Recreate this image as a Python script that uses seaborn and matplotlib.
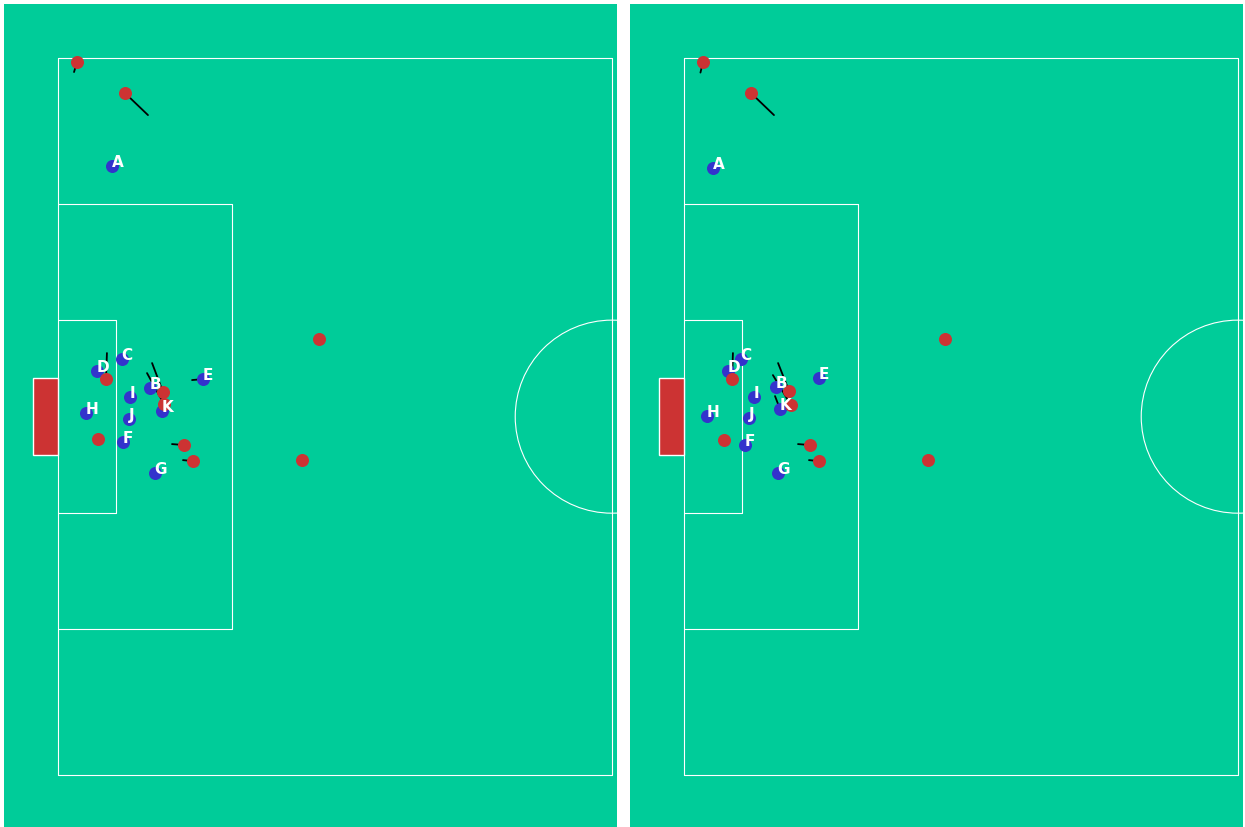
import matplotlib
matplotlib.use("Agg")
import matplotlib.pyplot as plt
import matplotlib.patches as patches
import seaborn as sns
import pandas as pd

sns.set_style("white")
plt.rcParams['font.family'] = ['DejaVu Sans']

# ---------------- data (metres, x from own goal line, y from top touchline) -------------
# Left panel
left_red_x = [1.80, 6.35, 24.75, 4.55, 9.96, 10.05, 11.95, 12.80, 3.76, 23.13]
left_red_y = [0.38, 3.32, 26.64, 30.44, 31.67, 32.81, 36.69, 38.21, 36.12, 38.12]
left_red_vx = [-0.28, 2.18, 0.0, 0.09, -1.04, -1.61, -1.14, -0.95, 0.0, 0.0]
left_red_vy = [0.95, 2.09, 0.0, -2.47, -2.75, -2.94, -0.09, -0.09, 0.0, 0.0]

left_blue_labels = ["A", "C", "D", "E", "B", "I", "K", "H", "J", "F", "G"]
left_blue_x = [5.12, 6.07, 3.70, 13.75, 8.72, 6.83, 9.86, 2.65, 6.73, 6.16, 9.20]
left_blue_y = [10.24, 28.54, 29.68, 30.44, 31.29, 32.14, 33.47, 33.66, 34.23, 36.41, 39.35]
left_blue_vx = [0.0, 0.0, 0.0, -1.04, 0.0, 0.0, 0.0, 0.0, 0.0, 0.0, 0.0]
left_blue_vy = [0.0, 0.0, 0.0, 0.09, 0.0, 0.0, 0.0, 0.0, 0.0, 0.0, 0.0]

# Right panel
right_red_x = [1.80, 6.35, 24.75, 4.55, 9.96, 10.14, 11.95, 12.80, 3.79, 23.13]
right_red_y = [0.38, 3.32, 26.64, 30.44, 31.57, 32.90, 36.69, 38.21, 36.22, 38.12]
right_red_vx = [-0.24, 2.18, 0.0, 0.09, -1.04, -1.71, -1.14, -0.95, 0.0, 0.0]
right_red_vy = [1.00, 2.09, 0.0, -2.47, -2.65, -2.84, -0.09, -0.09, 0.0, 0.0]

right_blue_labels = ["A", "C", "D", "E", "B", "I", "K", "H", "J", "F", "G"]
right_blue_x = [2.75, 5.40, 4.17, 12.80, 8.72, 6.64, 9.10, 2.18, 6.16, 5.78, 8.91]
right_blue_y = [10.43, 28.54, 29.68, 30.34, 31.19, 32.14, 33.28, 33.94, 34.13, 36.69, 39.35]
right_blue_vx = [0.0, 0.0, 0.0, 0.0, 0.0, 0.0, -0.47, 0.0, 0.0, 0.0, 0.0]
right_blue_vy = [0.0, 0.0, 0.0, 0.0, 0.0, 0.0, -1.23, 0.0, 0.0, 0.0, 0.0]

GREEN = "#00CC99"
RED = "#CC3333"
BLUE = "#3333CC"

PITCH_W = 68.0
HALF_L = 52.5


def draw_pitch(ax):
    ax.set_facecolor(GREEN)
    lw = 0.8
    kw = dict(color="white", lw=lw, zorder=1)
    # outer half pitch
    ax.plot([0, HALF_L], [0, 0], **kw)
    ax.plot([0, HALF_L], [PITCH_W, PITCH_W], **kw)
    ax.plot([0, 0], [0, PITCH_W], **kw)
    ax.plot([HALF_L, HALF_L], [0, PITCH_W], **kw)
    # penalty area
    ax.plot([0, 16.5, 16.5, 0], [34 - 20.16, 34 - 20.16, 34 + 20.16, 34 + 20.16], **kw)
    # six-yard box
    ax.plot([0, 5.5, 5.5, 0], [34 - 9.16, 34 - 9.16, 34 + 9.16, 34 + 9.16], **kw)
    # centre circle
    ax.add_patch(patches.Circle((HALF_L, 34), 9.15, fill=False, ec="white", lw=lw, zorder=1))
    # goal
    ax.add_patch(patches.Rectangle((-2.4, 34 - 3.62), 2.4, 7.24, fc=RED, ec="white",
                                   lw=1.0, zorder=1))


def draw_players(ax, rx, ry, rvx, rvy, bl, bx, by, bvx, bvy):
    for x, y, vx, vy in zip(rx, ry, rvx, rvy):
        if vx or vy:
            ax.plot([x, x + vx], [y, y + vy], color="black", lw=1.3, zorder=2)
    for x, y, vx, vy in zip(bx, by, bvx, bvy):
        if vx or vy:
            ax.plot([x, x + vx], [y, y + vy], color="black", lw=1.3, zorder=2)
    blue_df = pd.DataFrame({"x": bx, "y": by, "label": bl})
    red_df = pd.DataFrame({"x": rx, "y": ry})
    sns.scatterplot(data=blue_df, x="x", y="y", color=BLUE, s=88, linewidth=0,
                    legend=False, ax=ax, zorder=3)
    sns.scatterplot(data=red_df, x="x", y="y", color=RED, s=88, linewidth=0,
                    legend=False, ax=ax, zorder=4)
    for _, r in blue_df.iterrows():
        ax.text(r["x"] - 0.03, r["y"] + 0.05, r["label"], color="white", fontsize=11,
                fontweight="bold", ha="left", va="baseline", zorder=5)


fig = plt.figure(figsize=(12.45, 8.27), dpi=100)
fig.patch.set_facecolor("white")
ax1 = fig.add_axes([4 / 1245, 0, 613 / 1245, 823 / 827])
ax2 = fig.add_axes([630 / 1245, 0, 613 / 1245, 823 / 827])

for ax, data in [
    (ax1, (left_red_x, left_red_y, left_red_vx, left_red_vy,
           left_blue_labels, left_blue_x, left_blue_y, left_blue_vx, left_blue_vy)),
    (ax2, (right_red_x, right_red_y, right_red_vx, right_red_vy,
           right_blue_labels, right_blue_x, right_blue_y, right_blue_vx, right_blue_vy)),
]:
    draw_pitch(ax)
    draw_players(ax, *data)
    ax.set_xlim(-5.12, 53.0)
    ax.set_ylim(72.9, -5.12)
    ax.set_aspect("auto")
    ax.set_xlabel("")
    ax.set_ylabel("")
    ax.set_xticks([])
    ax.set_yticks([])
    for s in ax.spines.values():
        s.set_visible(False)

fig.savefig("out.png", dpi=100, facecolor="white")
